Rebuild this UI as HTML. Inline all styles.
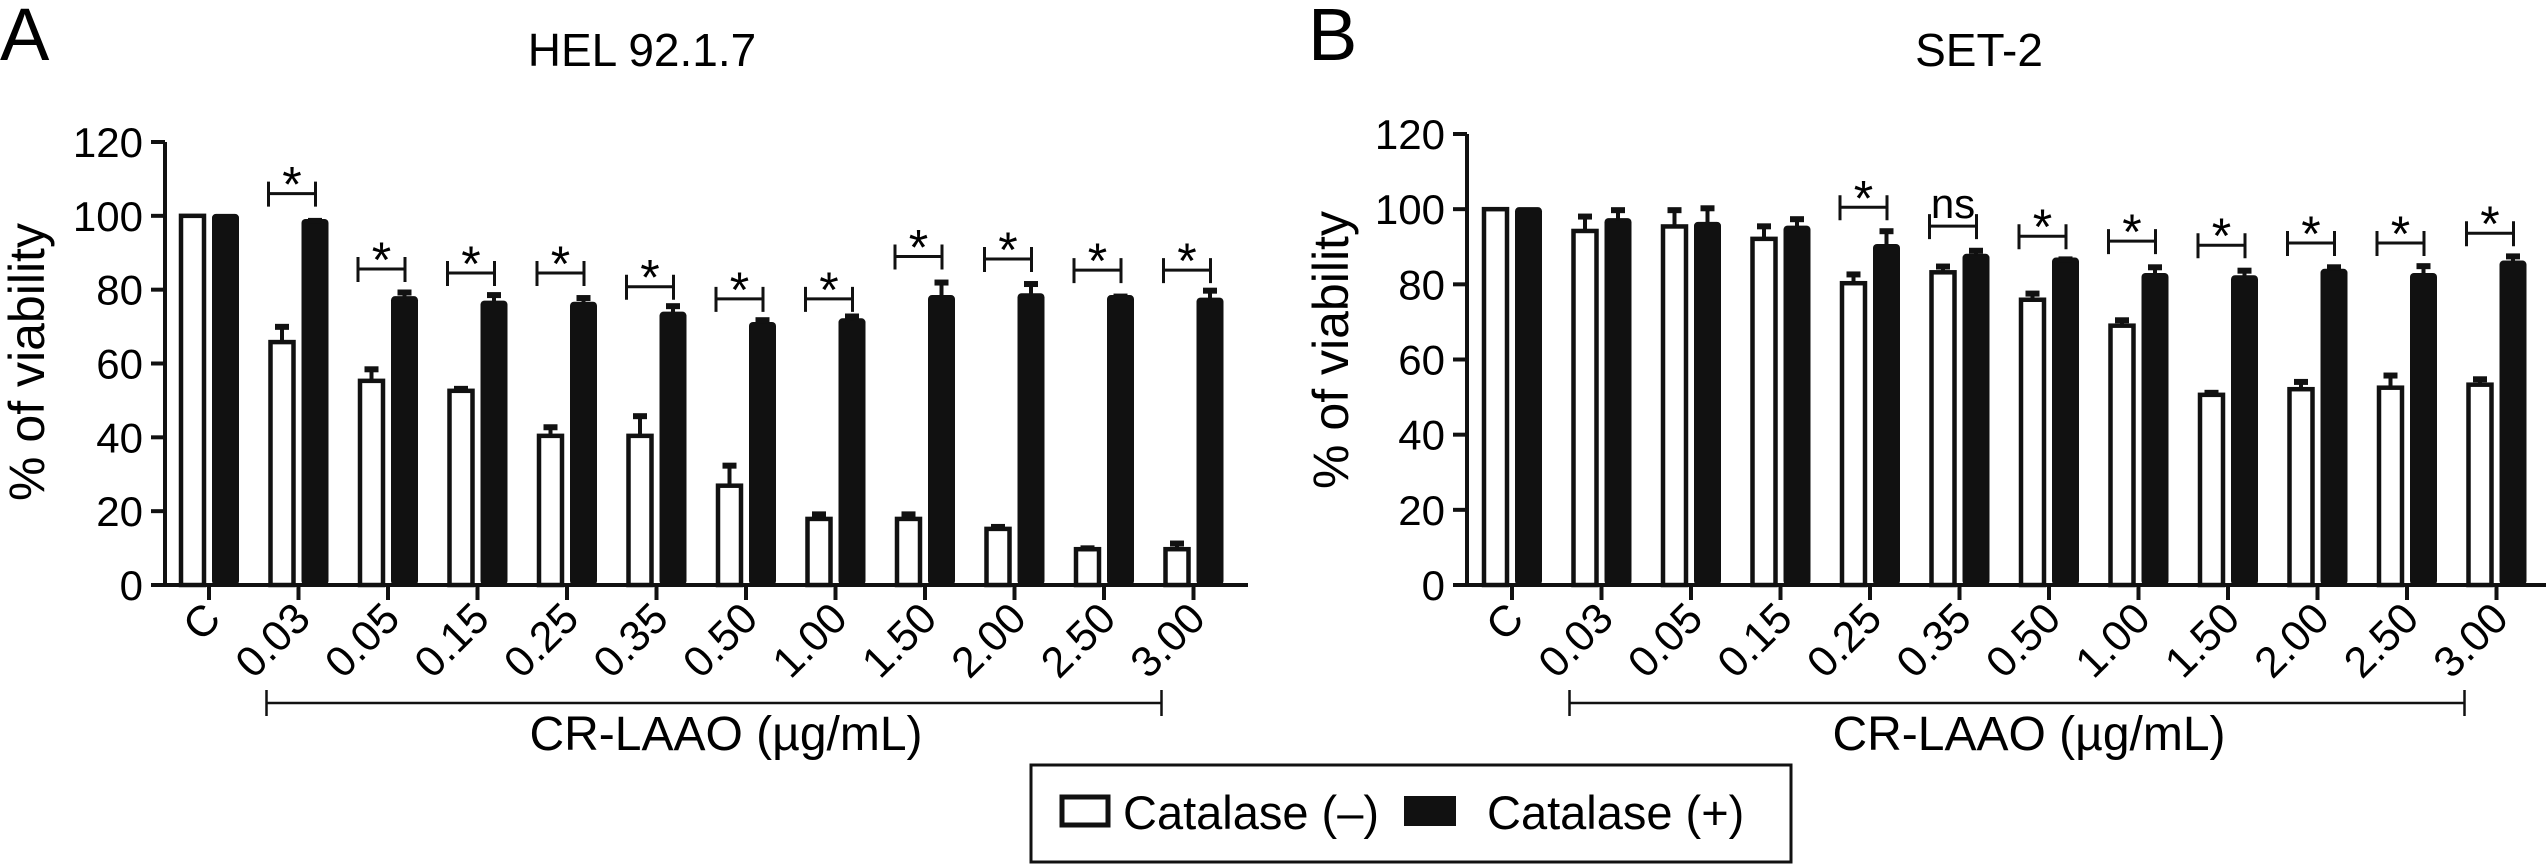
<!DOCTYPE html>
<html><head><meta charset="utf-8"><style>
html,body{margin:0;padding:0;background:#fff;}
svg{display:block;font-family:"Liberation Sans",Arial,sans-serif;}
</style></head><body>
<svg id="fig" width="2548" height="865" viewBox="0 0 2548 865" xmlns="http://www.w3.org/2000/svg">
<rect width="2548" height="865" fill="#fff"/>
<g id="panelA"></g>
<g id="panelB"></g>
<g>
<rect x="1031" y="765" width="760" height="97" fill="#fff" stroke="#111" stroke-width="3"/>
<rect x="1062" y="797" width="46" height="28" fill="#fff" stroke="#111" stroke-width="5"/>
<text x="1123" y="829" font-size="47">Catalase (–)</text>
<rect x="1404" y="796" width="52" height="30" fill="#111"/>
<text x="1487" y="829" font-size="47">Catalase (+)</text>
</g>
</svg>
<script>
const categories = ["C","0.03","0.05","0.15","0.25","0.35","0.50","1.00","1.50","2.00","2.50","3.00"];
const yTicks = [0,20,40,60,80,100,120];
const aWhite = [100,65.8,55.3,52.6,40.4,40.4,26.9,17.9,17.9,15.2,9.7,9.7];
const aWhiteErr = [0,4.4,3.4,0.8,2.6,5.6,5.7,1.5,1.5,0.8,0.5,1.8];
const aBlack = [100,98.6,77.7,76.5,76.2,73.5,70.7,71.7,78,78.5,78,77.3];
const aBlackErr = [0,0.3,1.8,2.3,1.8,2.3,1.3,1.3,4.2,3.3,0.4,2.7];
const aSig = [null,"*","*","*","*","*","*","*","*","*","*","*"];
const aSigLevel = [null,106,85.6,84.5,84.5,80.8,77.5,77.5,89,88.3,85.3,85.3];
const bWhite = [100,94.2,95.4,92.1,80.3,83.2,75.9,69,50.6,52.1,52.5,53.3];
const bWhiteErr = [0,4.1,4.6,3.6,2.6,1.8,1.9,1.7,0.8,2.2,3.5,1.7];
const bBlack = [100,97.1,96.1,95.1,90.2,87.6,86.6,82.5,81.9,83.6,82.5,85.8];
const bBlackErr = [0,2.9,4.4,2.5,4.2,1.6,0.3,2.3,2,1.2,2.6,1.9];
const bSig = [null,null,null,null,"*","ns","*","*","*","*","*","*"];
const bSigLevel = [null,null,null,null,100.5,95.5,92.8,91.5,90.4,91,91,93.6];

const NS="http://www.w3.org/2000/svg";
function mk(parent,tag,attrs,txt){const e=document.createElementNS(NS,tag);for(const k in attrs)e.setAttribute(k,attrs[k]);if(txt!==undefined)e.textContent=txt;parent.appendChild(e);return e;}

function panel(gid,cfg){
  const g=document.getElementById(gid);
  const y=v=>cfg.y0-(v/120)*(cfg.y0-cfg.y120);
  const x=i=>cfg.x0+i*cfg.step;
  // letter and title
  let t=mk(g,'text',{x:cfg.letterX,y:60,'font-size':74},cfg.letter);
  
  
  t=mk(g,'text',{x:cfg.titleX,y:66,'font-size':46,'text-anchor':'middle'},cfg.title);
  
  
  // y axis
  let a=mk(g,'line',{x1:cfg.ax,y1:y(120),x2:cfg.ax,y2:cfg.y0+2,stroke:'#111','stroke-width':4});
  
  
  yTicks.forEach(v=>{
    const l=mk(g,'line',{x1:cfg.ax-14,y1:y(v),x2:cfg.ax,y2:y(v),stroke:'#111','stroke-width':4});
    
    
    const tt=mk(g,'text',{x:cfg.ax-22,y:y(v)+15,'font-size':42,'text-anchor':'end'},String(v));
    
    
  });
  t=mk(g,'text',{x:0,y:0,'font-size':50,'text-anchor':'middle',transform:`translate(${cfg.ytX},${cfg.ytY}) rotate(-90)`},'% of viability');
  
  
  // bars
  categories.forEach((c,i)=>{
    const cx=x(i);
    const wv=cfg.white[i],bv=cfg.black[i];
    const wr=mk(g,'rect',{x:cx-28,y:y(wv),width:23,height:cfg.y0-y(wv),fill:'#fff',stroke:'#111','stroke-width':4.5});
    
    
    const br=mk(g,'rect',{x:cx+3,y:y(bv)-2,width:27,height:cfg.y0-y(bv)+2,fill:'#111',rx:4});
    
    
    [[cx-16.5,wv,cfg.whiteErr[i]],[cx+16.5,bv,cfg.blackErr[i]]].forEach(([ex,v,e])=>{
      if(e<=0)return;
      const el=mk(g,'line',{x1:ex,y1:y(v),x2:ex,y2:y(v+e),stroke:'#111','stroke-width':4});
      
      
      const ec=mk(g,'line',{x1:ex-7,y1:y(v+e)+1,x2:ex+7,y2:y(v+e)+1,stroke:'#111','stroke-width':6});
      
      
    });
    const tk=mk(g,'line',{x1:cx,y1:cfg.y0,x2:cx,y2:cfg.y0+15,stroke:'#111','stroke-width':4});
    
    
    const lb=mk(g,'text',{x:0,y:0,'font-size':43,'text-anchor':'end',transform:`translate(${cx+14},${cfg.y0+36}) rotate(-45)`},c);
    
    
    // significance
    if(cfg.sig[i]){
      const sy=y(cfg.sigLevel[i]);
      const x1=cx-30,x2=cx+17;
      const bk=mk(g,'path',{d:`M${x1},${sy-12}V${sy+13}M${x1},${sy}H${x2}M${x2},${sy-12}V${sy+13}`,stroke:'#111','stroke-width':3,fill:'none'});
      
      
      const isNs=cfg.sig[i]==='ns';
      const st=mk(g,'text',{x:(x1+x2)/2,y:isNs?sy-8:sy+8,'font-size':isNs?42:50,'text-anchor':'middle'},cfg.sig[i]);
      
      
    }
  });
  a=mk(g,'line',{x1:cfg.ax-12,y1:cfg.y0,x2:cfg.xEnd,y2:cfg.y0,stroke:'#111','stroke-width':4});
  
  
  // group bracket
  const gb=mk(g,'path',{d:`M${x(1)-32},690V716M${x(1)-32},703H${x(11)-32}M${x(11)-32},690V716`,stroke:'#111','stroke-width':2.5,fill:'none'});
  
  
  t=mk(g,'text',{x:(x(1)+x(11))/2-20,y:750,'font-size':48,'text-anchor':'middle'},'CR-LAAO (µg/mL)');
  
  
}
panel('panelA',{letter:'A',letterX:0,title:'HEL 92.1.7',titleX:642,ax:165,y0:585,y120:142,x0:209,step:89.5,xEnd:1248,ytX:44,ytY:362,
  white:aWhite,whiteErr:aWhiteErr,black:aBlack,blackErr:aBlackErr,sig:aSig,sigLevel:aSigLevel});
panel('panelB',{letter:'B',letterX:1308,title:'SET-2',titleX:1979,ax:1467,y0:585,y120:134,x0:1512,step:89.5,xEnd:2546,ytX:1348,ytY:350,
  white:bWhite,whiteErr:bWhiteErr,black:bBlack,blackErr:bBlackErr,sig:bSig,sigLevel:bSigLevel});
</script>
</body></html>
